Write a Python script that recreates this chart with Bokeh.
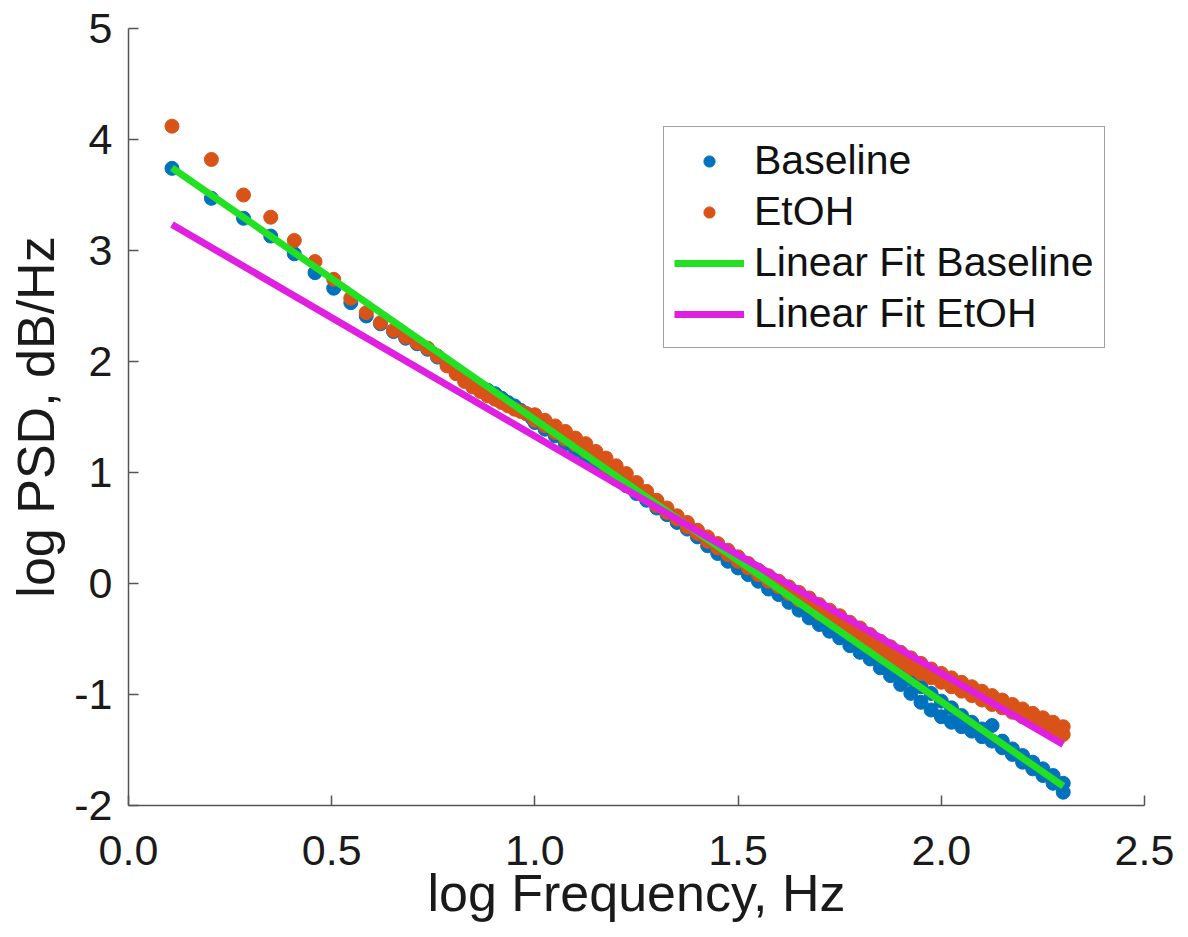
from bokeh.plotting import figure
from bokeh.models import (ColumnDataSource, Range1d, FixedTicker, Legend, LegendItem,
                          PrintfTickFormatter)
from bokeh.embed import file_html
from bokeh.resources import INLINE

# ---- data ----
# individually visible low-frequency points (log frequency)
low_x = [0.107, 0.204, 0.283, 0.350, 0.408, 0.459, 0.505, 0.547, 0.585, 0.620,
         0.652, 0.682, 0.710, 0.736, 0.760, 0.784, 0.806, 0.827, 0.847, 0.866,
         0.884, 0.902, 0.918, 0.934, 0.950, 0.965, 0.979, 0.993]
baseline_low = [3.74, 3.47, 3.29, 3.13, 2.97, 2.80, 2.66, 2.53, 2.41, 2.34,
                2.27, 2.21, 2.16, 2.11, 2.04, 1.97, 1.91, 1.86, 1.81, 1.77,
                1.74, 1.71, 1.67, 1.63, 1.60, 1.56, 1.53, 1.49]
etoh_low = [4.12, 3.82, 3.50, 3.30, 3.09, 2.90, 2.74, 2.57, 2.44, 2.35,
            2.28, 2.22, 2.17, 2.12, 2.05, 1.96, 1.89, 1.82, 1.77, 1.73,
            1.69, 1.66, 1.63, 1.60, 1.57, 1.55, 1.53, 1.51]

# dense high-frequency band: upper and lower traces of each band
dense_x = [1.000, 1.025, 1.050, 1.075, 1.100, 1.125, 1.150, 1.175, 1.200, 1.225,
           1.250, 1.275, 1.300, 1.325, 1.350, 1.375, 1.400, 1.425, 1.450, 1.475,
           1.500, 1.525, 1.550, 1.575, 1.600, 1.625, 1.650, 1.675, 1.700, 1.725,
           1.750, 1.775, 1.800, 1.825, 1.850, 1.875, 1.900, 1.925, 1.950, 1.975,
           2.000, 2.025, 2.050, 2.075, 2.100, 2.125, 2.150, 2.175, 2.200, 2.225,
           2.250, 2.275, 2.300]
baseline_hi = [1.50, 1.44, 1.37, 1.31, 1.24, 1.18, 1.11, 1.05, 0.98, 0.92,
               0.85, 0.79, 0.72, 0.66, 0.59, 0.53, 0.46, 0.40, 0.33, 0.27,
               0.20, 0.14, 0.08, 0.01, -0.05, -0.11, -0.18, -0.24, -0.30, -0.37,
               -0.43, -0.49, -0.56, -0.62, -0.68, -0.74, -0.80, -0.86, -0.93, -0.99,
               -1.06, -1.12, -1.19, -1.25, -1.31, -1.28, -1.42, -1.49, -1.55, -1.61,
               -1.67, -1.73, -1.80]
baseline_lo = [1.45, 1.39, 1.33, 1.26, 1.20, 1.14, 1.07, 1.01, 0.94, 0.88,
               0.81, 0.75, 0.68, 0.62, 0.55, 0.49, 0.42, 0.34, 0.27, 0.20,
               0.14, 0.08, 0.02, -0.05, -0.10, -0.17, -0.24, -0.31, -0.37, -0.43,
               -0.49, -0.56, -0.62, -0.68, -0.76, -0.83, -0.91, -0.99, -1.07, -1.14,
               -1.20, -1.25, -1.29, -1.33, -1.38, -1.42, -1.48, -1.54, -1.61, -1.67,
               -1.73, -1.80, -1.88]
etoh_hi = [1.52, 1.47, 1.42, 1.37, 1.31, 1.26, 1.19, 1.13, 1.06, 0.99,
           0.91, 0.83, 0.75, 0.68, 0.61, 0.55, 0.48, 0.42, 0.36, 0.30,
           0.24, 0.18, 0.12, 0.07, 0.02, -0.03, -0.08, -0.13, -0.19, -0.24,
           -0.29, -0.35, -0.40, -0.46, -0.52, -0.57, -0.62, -0.67, -0.72, -0.77,
           -0.81, -0.85, -0.89, -0.93, -0.97, -1.01, -1.05, -1.09, -1.13, -1.17,
           -1.21, -1.25, -1.29]
etoh_lo = [1.47, 1.42, 1.36, 1.30, 1.25, 1.19, 1.13, 1.06, 0.99, 0.92,
           0.85, 0.78, 0.70, 0.64, 0.58, 0.51, 0.45, 0.38, 0.32, 0.26,
           0.20, 0.14, 0.08, 0.02, -0.03, -0.09, -0.15, -0.20, -0.27, -0.32,
           -0.38, -0.44, -0.50, -0.56, -0.62, -0.67, -0.72, -0.77, -0.81, -0.85,
           -0.89, -0.93, -0.97, -1.01, -1.05, -1.09, -1.12, -1.16, -1.20, -1.24,
           -1.28, -1.32, -1.36]

# linear fits (end points)
fit_x = [0.107, 2.300]
baseline_fit = [3.745, -1.826]
etoh_fit = [3.234, -1.450]

x_ticks = [0.0, 0.5, 1.0, 1.5, 2.0, 2.5]
y_ticks = [-2, -1, 0, 1, 2, 3, 4, 5]
y_tick_labels = ["-2", "-1", "0", "1", "2", "3", "4", "5"]

BLUE = "#0072BD"
ORANGE = "#D95319"
GREEN = "#22E022"
MAGENTA = "#E01FE0"
FONT = "Liberation Sans"

p = figure(width=1188, height=937, x_range=Range1d(0, 2.5), y_range=Range1d(-2, 5),
           output_backend="svg", toolbar_location=None,
           min_border_left=128, min_border_right=44, min_border_top=28,
           min_border_bottom=132)
p.outline_line_color = None
p.xgrid.visible = False
p.ygrid.visible = False
p.background_fill_color = "white"
p.border_fill_color = "white"

src_b = ColumnDataSource(dict(x=low_x + dense_x + dense_x,
                              y=baseline_low + baseline_hi + baseline_lo))
src_e = ColumnDataSource(dict(x=low_x + dense_x + dense_x,
                              y=etoh_low + etoh_hi + etoh_lo))

r_b = p.scatter("x", "y", source=src_b, size=14, fill_color=BLUE,
                line_color=BLUE, line_width=1)
r_e = p.scatter("x", "y", source=src_e, size=14, fill_color=ORANGE,
                line_color=ORANGE, line_width=1)
r_gf = p.line(fit_x, baseline_fit, line_color=GREEN, line_width=7)
r_mf = p.line(fit_x, etoh_fit, line_color=MAGENTA, line_width=7)

for ax in (p.xaxis[0], p.yaxis[0]):
    ax.axis_line_color = "#555555"
    ax.axis_line_width = 1.5
    ax.major_tick_line_color = "#555555"
    ax.major_tick_line_width = 1.5
    ax.major_tick_in = 10
    ax.major_tick_out = 0
    ax.minor_tick_line_color = None
    ax.major_label_text_font = FONT
    ax.major_label_text_font_size = "43px"
    ax.major_label_text_color = "#1a1a1a"
    ax.axis_label_text_font = FONT
    ax.axis_label_text_font_size = "52px"
    ax.axis_label_text_font_style = "normal"
    ax.axis_label_text_color = "#1a1a1a"

p.xaxis.ticker = FixedTicker(ticks=x_ticks)
p.xaxis.formatter = PrintfTickFormatter(format="%.1f")
p.yaxis.ticker = FixedTicker(ticks=y_ticks)
p.yaxis.major_label_overrides = {t: s for t, s in zip(y_ticks, y_tick_labels)}
p.xaxis.axis_label = "log Frequency, Hz"
p.yaxis.axis_label = "log PSD, dB/Hz"
p.xaxis.major_label_standoff = 30
p.yaxis.major_label_standoff = 16
p.xaxis.axis_label_standoff = -4
p.yaxis.axis_label_standoff = 6

legend = Legend(items=[LegendItem(label="Baseline", renderers=[r_b]),
                       LegendItem(label="EtOH", renderers=[r_e]),
                       LegendItem(label="Linear Fit Baseline", renderers=[r_gf]),
                       LegendItem(label="Linear Fit EtOH", renderers=[r_mf])],
                location=(535, 457), glyph_width=70, glyph_height=28,
                label_standoff=10, padding=10, spacing=4, margin=0,
                label_text_font=FONT, label_text_font_size="41px",
                label_text_color="#111111",
                border_line_color="#444444", border_line_width=1.5,
                background_fill_color="white", background_fill_alpha=1.0)
p.add_layout(legend)

open("out.html", "w").write(file_html(p, INLINE))
